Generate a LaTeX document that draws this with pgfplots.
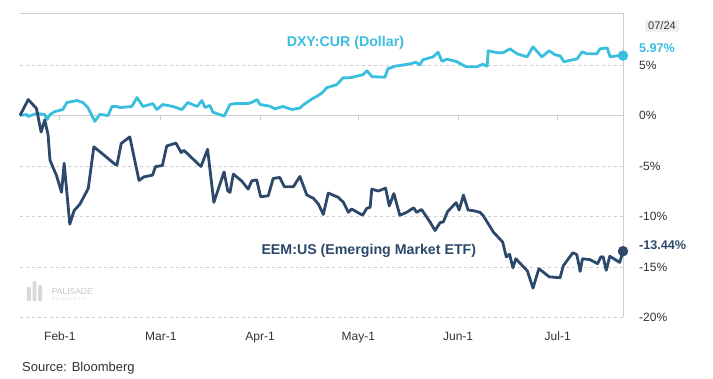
\documentclass[border=0pt]{standalone}
\usepackage{pgfplots}
\pgfplotsset{compat=1.18}
\usepackage{fontspec}
\setmainfont{Liberation Sans}
\definecolor{dxy}{RGB}{58,190,222}
\definecolor{eem}{RGB}{44,72,106}
\definecolor{gridc}{RGB}{205,205,205}
\definecolor{txt}{RGB}{50,50,50}
\begin{document}
\begin{tikzpicture}
\path[use as bounding box] (0,0) rectangle (713bp,379bp);
\begin{axis}[
  at={(20bp,61.7bp)}, anchor=south west,
  width=603bp, height=304bp, scale only axis,
  xmin=19.9, xmax=202.8, ymin=-20, ymax=10.17,
  axis line style={draw=none},
  major tick length=0pt,
  xtick={32,62.6,92.7,122.5,152.8,183},
  xticklabels={Feb-1,Mar-1,Apr-1,May-1,Jun-1,Jul-1},
  ytick={-20,-15,-10,-5,0,5},
  yticklabels={-20\%,-15\%,-10\%,-5\%,0\%,5\%},
  yticklabel pos=right,
  yticklabel style={anchor=west, inner sep=0pt, xshift=16bp, font=\fontsize{12bp}{14bp}\selectfont, text=txt},
  xticklabel style={anchor=base, inner sep=0pt, yshift=-23.5bp, font=\fontsize{12bp}{14bp}\selectfont, text=txt},
  ymajorgrids, grid style={gridc, dash pattern=on 3bp off 3bp, line width=0.7bp},
  clip=false,
]
% frame pieces
\draw[gridc, line width=1bp] (rel axis cs:0,1) -- (rel axis cs:1,1) -- (rel axis cs:1,0);
\draw[gridc, line width=1.2bp] (axis cs:19.9,0) -- (axis cs:202.8,0);
\pgfplotsinvokeforeach{32,62.6,92.7,122.5,152.8,183}{
  \draw[gridc, line width=1bp] (axis cs:#1,0) -- ([yshift=-4bp]axis cs:#1,0);
}
% watermark
\node[anchor=west, inner sep=0pt, text=gray!45, font=\fontsize{8.5bp}{9bp}\selectfont] at (axis cs:29.5,-17.4) {PALISADE};
\node[anchor=west, inner sep=0pt, text=gray!25, font=\fontsize{4.5bp}{5bp}\selectfont] at (axis cs:29.5,-18.2) {R E S E A R C H};
\fill[gray!30, rounded corners=1bp] (axis cs:22.0,-18.4) rectangle (axis cs:23.2,-17.0);
\fill[gray!30, rounded corners=1bp] (axis cs:23.7,-18.4) rectangle (axis cs:24.9,-16.4);
\fill[gray!30, rounded corners=1bp] (axis cs:25.4,-18.4) rectangle (axis cs:26.6,-16.8);

% DXY:CUR
\addplot[dxy, line width=2.8bp, line join=round, no markers] table {
19.9 0.03
22.0 0.13
22.3 -0.07
25.0 0.23
27.4 0.13
28.1 -0.37
29.0 0.13
30.5 0.42
32.9 0.62
34.1 1.31
35.6 1.41
37.2 1.51
39.0 1.31
40.5 0.82
42.6 -0.56
44.1 0.13
46.6 0.03
47.8 0.92
49.3 0.92
50.2 0.82
53.8 0.92
55.4 1.81
57.2 0.92
59.3 1.12
60.2 1.21
61.4 0.62
63.2 1.12
66.3 0.92
69.0 0.62
70.8 1.31
73.6 0.92
75.1 1.51
76.0 0.82
77.5 1.02
78.4 0.36
81.8 -0.04
83.6 1.12
85.1 1.21
89.0 1.21
90.3 1.34
91.8 1.61
92.7 1.12
95.7 0.95
97.2 0.69
99.7 0.92
102.4 0.62
104.8 0.77
106.0 1.12
108.5 1.68
110.3 2.00
111.5 2.27
113.0 2.79
116.0 3.09
117.9 3.78
120.0 3.78
122.1 3.93
123.9 4.08
125.1 4.47
126.7 3.88
130.6 3.83
131.5 4.67
133.6 4.92
137.6 5.11
140.0 5.31
141.2 5.06
142.1 5.56
145.2 5.85
146.7 6.30
147.9 5.41
149.4 5.61
152.1 5.41
155.2 4.87
158.5 4.87
160.3 5.11
161.6 4.92
161.9 6.45
164.9 6.25
166.4 6.25
168.5 6.64
170.7 6.15
173.7 5.85
175.5 6.84
178.2 5.85
180.4 6.45
182.2 6.05
183.7 5.95
184.9 5.36
188.9 5.66
190.4 6.35
191.9 6.15
194.9 6.15
195.8 6.64
198.0 6.74
198.9 5.85
201.0 5.95
202.8 5.97
};
\addplot[dxy, only marks, mark=*, mark size=5bp] coordinates {(202.8,5.97)};

% EEM:US
\addplot[eem, line width=2.8bp, line join=round, no markers] table {
19.9 0.03
22.4 1.61
24.9 0.72
26.3 -1.62
27.4 -0.41
28.4 -1.85
29.0 -4.41
31.0 -5.96
32.5 -7.60
33.3 -4.71
35.0 -10.76
36.3 -9.42
38.1 -8.76
40.6 -7.21
42.3 -3.08
45.7 -3.99
48.7 -4.81
49.3 -4.91
50.6 -2.75
53.2 -2.09
56.0 -6.42
57.5 -6.06
60.1 -5.89
61.0 -5.05
63.1 -4.93
64.4 -3.00
67.2 -2.71
68.8 -3.65
69.6 -3.43
70.9 -3.82
74.0 -4.81
74.8 -5.03
76.8 -3.33
78.7 -8.59
81.8 -5.57
82.9 -7.44
83.6 -7.60
84.6 -5.79
87.1 -6.46
89.1 -7.28
90.2 -6.46
91.7 -6.36
92.9 -8.04
95.2 -7.94
96.7 -6.22
98.7 -6.12
100.1 -7.05
102.8 -7.05
104.8 -6.02
106.9 -7.87
108.9 -8.19
110.4 -8.76
111.9 -9.79
113.4 -7.67
116.4 -8.09
118.0 -8.59
119.5 -9.58
120.5 -9.25
123.8 -9.87
125.1 -9.18
126.1 -9.08
126.6 -7.28
128.6 -7.47
130.8 -7.18
131.9 -8.95
133.3 -7.72
135.1 -9.87
137.2 -9.58
139.3 -9.13
140.2 -9.58
141.7 -9.30
144.3 -10.56
145.8 -11.39
147.3 -10.61
148.3 -10.53
149.6 -9.50
152.2 -8.62
153.1 -9.35
154.4 -7.87
155.8 -9.35
157.4 -9.42
159.4 -9.58
160.4 -9.91
163.5 -11.55
166.3 -12.53
167.4 -14.01
168.4 -13.74
169.4 -15.09
170.3 -14.19
173.8 -15.40
175.5 -17.10
177.3 -15.17
180.4 -15.98
183.7 -16.08
184.7 -14.88
187.6 -13.59
188.8 -13.79
189.8 -15.44
190.5 -14.19
192.8 -14.28
195.1 -14.68
196.1 -13.99
196.8 -14.02
197.7 -15.34
198.8 -13.94
201.8 -14.55
202.8 -13.44
};
\addplot[eem, only marks, mark=*, mark size=5bp] coordinates {(202.8,-13.44)};

% labels
\node[text=dxy, font=\bfseries\fontsize{14.2bp}{16bp}\selectfont] at (axis cs:118.6,7.24) {DXY:CUR (Dollar)};
\node[text=eem, font=\bfseries\fontsize{14.2bp}{16bp}\selectfont] at (axis cs:125.7,-13.37) {EEM:US (Emerging Market ETF)};
\node[anchor=west, inner sep=0pt, xshift=16bp, text=dxy, font=\bfseries\fontsize{12.6bp}{14bp}\selectfont] at (axis cs:202.8,6.74) {5.97\%};
\node[anchor=west, inner sep=0pt, xshift=16bp, text=eem, font=\bfseries\fontsize{12.6bp}{14bp}\selectfont] at (axis cs:202.8,-12.80) {-13.44\%};
\node[fill=gray!12, text=txt, inner xsep=3bp, inner ysep=2bp, xshift=39bp, font=\fontsize{11bp}{12bp}\selectfont] at (axis cs:202.8,8.91) {07/24};
\end{axis}
\node[anchor=base west, inner sep=0pt, text=txt, font=\fontsize{13bp}{15bp}\selectfont] at (22bp,8bp) {Source: Bloomberg};
\end{tikzpicture}
\end{document}
